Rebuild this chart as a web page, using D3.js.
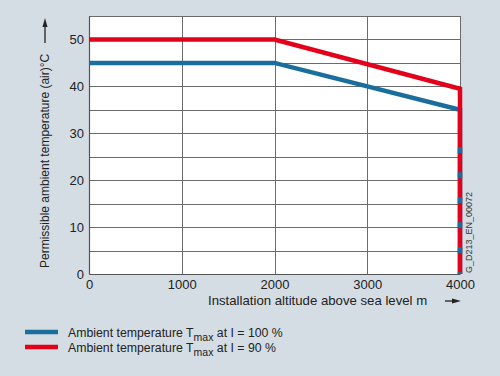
<!DOCTYPE html>
<html><head><meta charset="utf-8">
<script src="https://cdn.jsdelivr.net/npm/d3@7"></script>
<style>
html,body{margin:0;padding:0;background:#d4dde4;}
svg{display:block;font-family:"Liberation Sans",Arial,sans-serif;}
</style></head>
<body>
<svg id="c" width="500" height="376"></svg>
<script>
// Data
const altitude = [0, 2000, 4000, 4000];
const tempI100 = [45, 45, 35, 0];
const tempI90  = [50, 50, 39.5, 0];
const blueDashFrom = 27; // visible blue dashes along the 4000 m drop
const xTicks = [0, 1000, 2000, 3000, 4000];
const yTicks = [0, 10, 20, 30, 40, 50];
const yGrid = [5, 10, 15, 20, 25, 30, 35, 40, 45, 50, 55];
const legendLabels = [
  {pre: "Ambient temperature T", sub: "max", post: " at I = 100 %", color: "#1a6e9c"},
  {pre: "Ambient temperature T", sub: "max", post: " at I = 90 %", color: "#e2001a"}
];

const svg = d3.select("#c");
const L = 89, R = 460, T = 16, B = 274;
const x = d3.scaleLinear().domain([0, 4000]).range([L, R]);
const y = d3.scaleLinear().domain([0, 55]).range([B, T]);

svg.append("rect").attr("x", L).attr("y", T).attr("width", R - L).attr("height", B - T).attr("fill", "#ffffff");

// grid
svg.append("g").selectAll("line").data(yGrid).join("line")
  .attr("x1", L).attr("x2", R).attr("y1", d => Math.round(y(d)) + 0.5).attr("y2", d => Math.round(y(d)) + 0.5)
  .attr("stroke", "#6b6b6b").attr("stroke-width", 1);
svg.append("g").selectAll("line").data(xTicks.slice(1)).join("line")
  .attr("y1", T).attr("y2", B).attr("x1", d => Math.round(x(d)) + 0.5).attr("x2", d => Math.round(x(d)) + 0.5)
  .attr("stroke", "#6b6b6b").attr("stroke-width", 1);

// axes
const xAxis = svg.append("g").attr("transform", `translate(0,${B})`)
  .call(d3.axisBottom(x).tickValues(xTicks).tickSize(0).tickPadding(6).tickFormat(d3.format("d")));
const yAxis = svg.append("g").attr("transform", `translate(${L},0)`)
  .call(d3.axisLeft(y).tickValues(yTicks).tickSize(0).tickPadding(5).tickFormat(d3.format("d")));
[xAxis, yAxis].forEach(a => {
  a.select(".domain").attr("stroke", "#555").attr("stroke-width", 1.2);
  a.selectAll("text").attr("font-size", 13).attr("fill", "#222").attr("font-family", "Liberation Sans, Arial, sans-serif");
});

const line = d3.line().x(d => x(d[0])).y(d => y(d[1]));
const blueData = altitude.map((a, i) => [a, tempI100[i]]);
const redData = altitude.map((a, i) => [a, tempI90[i]]);

svg.append("path").datum(blueData).attr("d", line).attr("fill", "none")
  .attr("stroke", legendLabels[0].color).attr("stroke-width", 4.5);
svg.append("path").datum(redData).attr("d", line).attr("fill", "none")
  .attr("stroke", legendLabels[1].color).attr("stroke-width", 4.5);
svg.append("path").datum([[4000, blueDashFrom], [4000, 0]]).attr("d", line).attr("fill", "none")
  .attr("stroke", legendLabels[0].color).attr("stroke-width", 4.5).attr("stroke-dasharray", "6,19");

// axis titles
const yl = svg.append("g").attr("transform", "translate(49,268) rotate(-90)");
yl.append("text").attr("x", 0).attr("y", 0).attr("font-size", 12).attr("fill", "#222")
  .text("Permissible ambient temperature (air)°C");
// arrows
function arrow(g, x1, y1, x2, y2) {
  g.append("line").attr("x1", x1).attr("y1", y1).attr("x2", x2).attr("y2", y2).attr("stroke", "#222").attr("stroke-width", 1.3);
}
const ga = svg.append("g");
arrow(ga, 45, 43, 45, 24);
ga.append("path").attr("d", "M45,18 L42.5,27 L47.5,27 Z").attr("fill", "#222");
svg.append("text").attr("x", 208).attr("y", 305).attr("font-size", 13.2).attr("fill", "#222")
  .text("Installation altitude above sea level m");
arrow(ga, 445, 301, 455, 301);
ga.append("path").attr("d", "M461,301 L452,298.5 L452,303.5 Z").attr("fill", "#222");

// doc id
svg.append("text").attr("transform", "translate(472,273) rotate(-90)").attr("font-size", 9).attr("fill", "#333")
  .text("G_D213_EN_00072");

// legend
const lg = svg.append("g").selectAll("g").data(legendLabels).join("g")
  .attr("transform", (d, i) => `translate(0,${332 + i * 15})`);
lg.append("line").attr("x1", 25).attr("x2", 58).attr("y1", 0).attr("y2", 0)
  .attr("stroke", d => d.color).attr("stroke-width", 4.5);
const lt = lg.append("text").attr("x", 68).attr("y", 4.5).attr("font-size", 12.3).attr("fill", "#222");
lt.append("tspan").text(d => d.pre);
lt.append("tspan").attr("dy", 4).attr("font-size", 10.5).text(d => d.sub);
lt.append("tspan").attr("dy", -4).text(d => d.post);
</script>
</body></html>
